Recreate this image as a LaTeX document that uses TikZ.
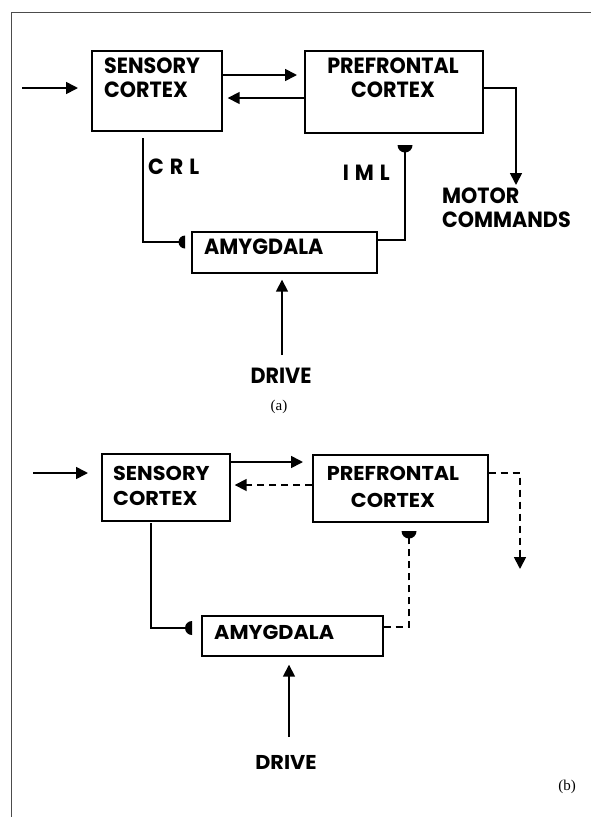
\documentclass[tikz,border=0pt]{standalone}
\usepackage{fontspec}
\setmainfont{Liberation Serif}
\newfontfamily\labA{Poppins}[FakeStretch=0.94]
\newfontfamily\labB{Poppins}[FakeStretch=1.04]
\usetikzlibrary{arrows.meta}
\begin{document}
\begin{tikzpicture}[x=1pt,y=-1pt,
  box/.style={draw,line width=1.7pt,inner sep=0,anchor=north west},
  conn/.style={line width=1.7pt},
  arr/.style={conn,-{Triangle[length=12pt,width=12pt]}},
  dsh/.style={dash pattern=on 7pt off 5pt},
  txtA/.style={font=\labA\bfseries\fontsize{22}{23.5}\selectfont,inner sep=0},
  txtB/.style={font=\labB\bfseries\fontsize{20}{25}\selectfont,inner sep=0},
  captxt/.style={font=\fontsize{15}{17}\selectfont,inner sep=0},
  frame/.style={draw=black!70,line width=0.8pt}
]
\useasboundingbox (0,0) rectangle (591,817);
\draw[frame] (591,12) -- (11,12) -- (11,817);

% ---------------- (a) ----------------
\node[box,minimum width=130,minimum height=80] (scA) at (91,50) {};
\node[box,minimum width=178,minimum height=82] (pfA) at (304,50) {};
\node[box,minimum width=185,minimum height=41] (amA) at (191,231) {};
\node[txtA,anchor=north west,align=left] (scAt) at (104,58) {SENSORY\\CORTEX};
\node[txtA,anchor=north,align=center] (pfAt) at (393,58) {PREFRONTAL\\CORTEX};
\node[txtA,anchor=west] (amAt) at (204,247) {AMYGDALA};
\node[txtA,anchor=north west,align=left] (motor) at (442,188) {MOTOR\\COMMANDS};
\node[txtA,anchor=west] (crl) at (148,167) {C\hskip6pt R\hskip6pt L};
\node[txtA,anchor=east] (iml) at (390,173) {I\hskip6pt M\hskip6pt L};
\node[txtA,anchor=north] (drA) at (281,368) {DRIVE};
\node[captxt] (la) at (279,407) {(a)};

\coordinate (inA) at (22,88);
\draw[arr,shorten >=13pt] (inA) -- (scA.west |- inA);
\draw[arr,shorten >=7pt] (scA.east |- 0,75) -- (pfA.west |- 0,75);
\draw[arr,shorten >=5pt] (pfA.west |- 0,98) -- (scA.east |- 0,98);
\coordinate (mtA) at (516,185);
\draw[arr] (pfA.east |- 0,88) -| (mtA);
% CRL
\coordinate (crlA0) at (143,138);
\coordinate (crlA1) at (179,242);
\draw[conn] (crlA0) |- (crlA1);
\fill (185,248.5) arc[start angle=90,end angle=270,radius=6.5] -- cycle;
% IML
\coordinate (imlA0) at (405,151);
\draw[conn] (amA.east |- 0,240) -| (imlA0);
\fill (397.5,145) arc[start angle=180,end angle=0,radius=7.5] -- cycle;
% drive
\coordinate (drA0) at (282,355);
\draw[arr,shorten >=6pt] (drA0) -- (amA.south -| drA0);

% ---------------- (b) ----------------
\node[box,minimum width=128,minimum height=67] (scB) at (101,453) {};
\node[box,minimum width=175,minimum height=67] (pfB) at (312,454) {};
\node[box,minimum width=181,minimum height=40] (amB) at (201,615) {};
\node[txtB,anchor=north west,align=left] (scBt) at (113,466) {SENSORY\\CORTEX};
\node[txtB,anchor=north,align=center,font=\labB\bfseries\fontsize{20}{27.5}\selectfont] (pfBt) at (393,466) {PREFRONTAL\\CORTEX};
\node[txtB,anchor=west] (amBt) at (214,632) {AMYGDALA};
\node[txtB,anchor=north] (drB) at (286,755) {DRIVE};
\node[captxt] (lb) at (567,787) {(b)};

\coordinate (inB) at (33,473);
\draw[arr,shorten >=13pt] (inB) -- (scB.west |- inB);
\draw[arr,shorten >=9pt] (scB.east |- 0,462) -- (pfB.west |- 0,462);
\draw[arr,dsh,shorten >=4pt] (pfB.west |- 0,485) -- (scB.east |- 0,485);
\coordinate (mtB) at (520,569);
\draw[arr,dsh] (pfB.east |- 0,473) -| (mtB);
% CRL
\coordinate (crlB0) at (151,523);
\coordinate (crlB1) at (186,628);
\draw[conn] (crlB0) |- (crlB1);
\fill (192,635) arc[start angle=90,end angle=270,radius=7] -- cycle;
% IML
\coordinate (imlB0) at (409,538);
\draw[conn,dsh] (amB.east |- 0,627) -| (imlB0);
\fill (401.5,531) arc[start angle=180,end angle=0,radius=7.5] -- cycle;
% drive
\coordinate (drB0) at (289,737);
\draw[arr,shorten >=8pt] (drB0) -- (amB.south -| drB0);
\end{tikzpicture}
\end{document}
